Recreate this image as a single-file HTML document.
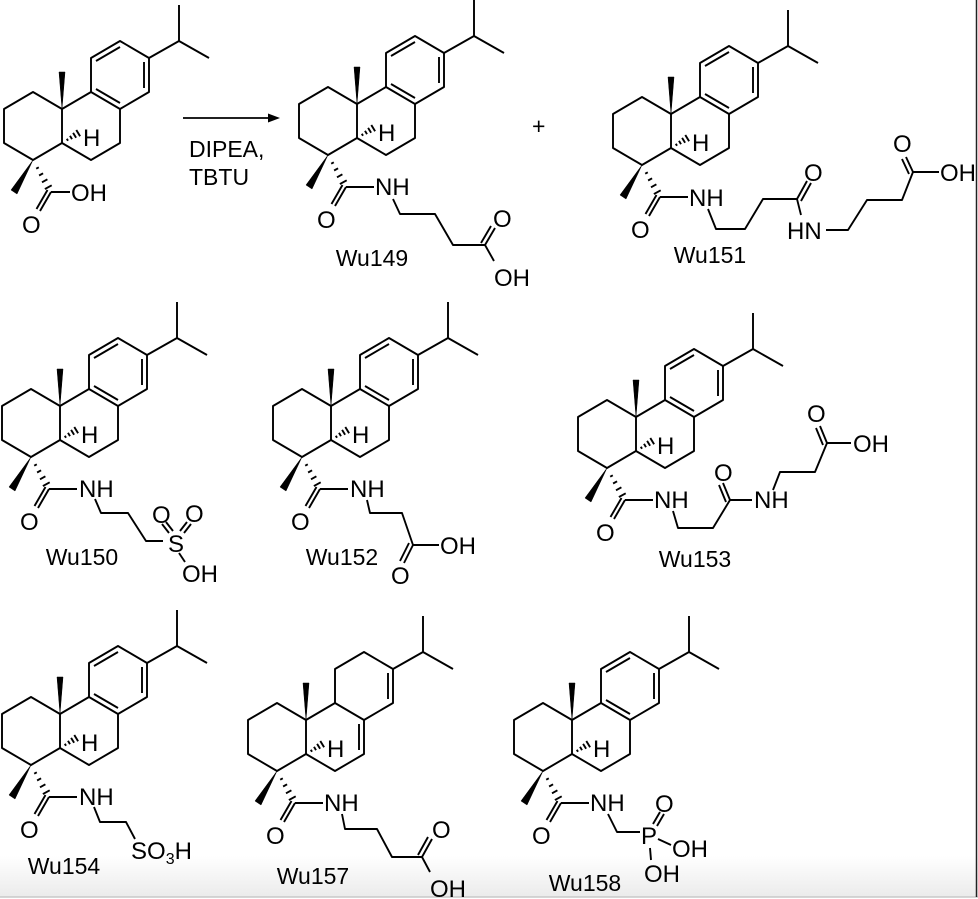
<!DOCTYPE html>
<html><head><meta charset="utf-8"><style>
html,body{margin:0;padding:0;background:#fff}
svg{display:block}
text{font-family:"Liberation Sans",Arial,sans-serif;fill:#000}
.a{font-size:24px}
.l{font-size:23px}
</style></head><body>
<svg width="978" height="899" viewBox="0 0 978 899" xmlns="http://www.w3.org/2000/svg">
<defs>
<linearGradient id="bg" x1="0" y1="0" x2="0" y2="1"><stop offset="0" stop-color="#fff"/><stop offset="1" stop-color="#ebebeb"/></linearGradient>
<g id="base" stroke="#000" stroke-width="1.9" fill="none" stroke-linejoin="round">
<polyline points="60,109 31,92 2,109 2,143 31,160 60,143"/>
<line x1="60" y1="109" x2="60" y2="143"/>
<polyline points="60,109 89,92 118,109 118,143 89,160 60,143"/>
<polyline points="89,92 89,58 118,41 147,58 147,92 118,109"/>
<polyline points="147,58 177,41 177,5"/>
<line x1="177" y1="41" x2="207" y2="58"/>
<polygon points="60,109 57,72 63,72" fill="#000" stroke-width="0.5"/>
<line x1="64.8" y1="138.7" x2="66" y2="140.7"/><line x1="68" y1="135.8" x2="70" y2="139.2"/><line x1="71.1" y1="132.9" x2="74.1" y2="137.7"/><line x1="74.3" y1="130" x2="78.1" y2="136.2"/>
<polygon points="31,160 9,190 15,194" fill="#000" stroke-width="0.5"/>
<line x1="34.2" y1="168.7" x2="36.8" y2="167.3"/><line x1="37.1" y1="175.5" x2="41.1" y2="173.3"/><line x1="40" y1="182.3" x2="45.4" y2="179.3"/><line x1="42.9" y1="189.1" x2="49.7" y2="185.3"/>
<line x1="49" y1="192" x2="38" y2="211"/><line x1="45.5" y1="190" x2="34.5" y2="209"/>
</g>
<g id="arom" stroke="#000" stroke-width="1.9">
<line x1="94" y1="61" x2="118" y2="47"/><line x1="142" y1="62" x2="142" y2="88"/><line x1="94" y1="89" x2="118" y2="103"/>
</g>
<g id="core"><use href="#base"/><use href="#arom"/><line x1="49" y1="192" x2="77" y2="192" stroke="#000" stroke-width="1.9"/></g>
<g id="core2"><use href="#base"/><line x1="49" y1="192" x2="77" y2="192" stroke="#000" stroke-width="1.9"/>
<line x1="142" y1="62" x2="142" y2="88" stroke="#000" stroke-width="1.9"/><line x1="113" y1="113" x2="113" y2="139" stroke="#000" stroke-width="1.9"/></g>
</defs>

<rect x="0" y="856" width="978" height="41" fill="url(#bg)"/>
<line x1="0" y1="897" x2="978" y2="897" stroke="#c8c8c8" stroke-width="1.5"/>
<line x1="976.5" y1="0" x2="976.5" y2="897" stroke="#222" stroke-width="1.5"/>

<!-- Starting material -->
<g transform="translate(2,0)"><use href="#base"/><use href="#arom"/>
<line x1="49" y1="192" x2="68" y2="192" stroke="#000" stroke-width="1.9"/>
<text class="a" x="81" y="146">H</text><text class="a" x="20" y="233">O</text><text class="a" x="69" y="201">OH</text></g>
<line x1="183" y1="118" x2="270" y2="118" stroke="#000" stroke-width="1.8"/>
<polygon points="280,118 268,113.5 268,122.5" fill="#000"/>
<text x="189" y="157" style="font-size:23px">DIPEA,</text>
<text x="189" y="185" style="font-size:23px">TBTU</text>
<text x="532" y="134" style="font-size:23px">+</text>

<g stroke="#000" stroke-width="1.9" fill="none" stroke-linejoin="round">
<!-- Wu149 -->
<polyline points="393,199 400,214 435,214 453,245 485,245"/>
<line x1="485" y1="245" x2="495" y2="228"/><line x1="481" y1="243" x2="491" y2="226"/>
<line x1="485" y1="245" x2="494" y2="261"/>
<!-- Wu151 -->
<polyline points="708,209 716,229 745,229 763,199 797,199"/>
<line x1="797" y1="199" x2="807" y2="181"/><line x1="801" y1="201" x2="811" y2="183"/>
<line x1="797" y1="199" x2="801" y2="215"/>
<polyline points="826,230 848,230 867,200 902,200 913,172"/>
<line x1="913" y1="172" x2="906" y2="157"/><line x1="909" y1="174" x2="902" y2="159"/>
<line x1="913" y1="172" x2="939" y2="172"/>
<!-- Wu150 -->
<polyline points="95,499 101,513 128,513 146,541 163,541"/>
<line x1="173" y1="531" x2="166" y2="522"/><line x1="169" y1="533" x2="162" y2="524"/>
<line x1="180" y1="531" x2="187" y2="522"/><line x1="184" y1="533" x2="191" y2="524"/>
<line x1="179" y1="553" x2="185" y2="562"/>
<!-- Wu152 -->
<polyline points="367,500 370,513 402,513 413,545 439,545"/>
<line x1="413" y1="545" x2="404" y2="563"/><line x1="409" y1="543" x2="400" y2="561"/>
<!-- Wu153 -->
<polyline points="673,511 678,528 713,528 730,500 752,500"/>
<line x1="730" y1="500" x2="723" y2="483"/><line x1="726" y1="502" x2="719" y2="485"/>
<polyline points="773,490 780,472 815,472 827,443 851,443"/>
<line x1="827" y1="443" x2="820" y2="426"/><line x1="823" y1="445" x2="816" y2="428"/>
<!-- Wu154 -->
<polyline points="94,807 100,822 126,822 135,839"/>
<!-- Wu157 -->
<polyline points="342,814 345,829 377,829 392,857 422,857"/>
<line x1="422" y1="857" x2="432" y2="839"/><line x1="418" y1="855" x2="428" y2="837"/>
<line x1="422" y1="857" x2="430" y2="872"/>
<!-- Wu158 -->
<polyline points="608,814 617,832 640,832"/>
<line x1="653" y1="824" x2="660" y2="812"/><line x1="657" y1="826" x2="664" y2="814"/>
<line x1="658" y1="839" x2="671" y2="845"/>
<line x1="650" y1="848" x2="651" y2="860"/>
</g>

<!-- Wu149 -->
<g transform="translate(297,-5)"><use href="#core"/><text class="a" x="81" y="146">H</text><text class="a" x="20" y="233">O</text></g>
<text class="a" x="375" y="195">NH</text>
<text class="a" x="493" y="227">O</text><text class="a" x="494" y="286">OH</text>
<text class="l" x="372" y="266" text-anchor="middle">Wu149</text>

<!-- Wu151 -->
<g transform="translate(611,5)"><use href="#core"/><text class="a" x="81" y="146">H</text><text class="a" x="20" y="233">O</text></g>
<text class="a" x="689" y="206">NH</text>
<text class="a" x="804" y="181">O</text><text class="a" x="787" y="239">HN</text>
<text class="a" x="893" y="152">O</text><text class="a" x="940" y="181">OH</text>
<text class="l" x="710" y="263" text-anchor="middle">Wu151</text>

<!-- Wu150 -->
<g transform="translate(0,297)"><use href="#core"/><text class="a" x="81" y="146">H</text><text class="a" x="20" y="233">O</text></g>
<text class="a" x="79" y="497">NH</text>
<text class="a" x="168" y="552">S</text><text class="a" x="152" y="523">O</text><text class="a" x="185" y="522">O</text>
<text class="a" x="182" y="582">OH</text>
<text class="l" x="82" y="565" text-anchor="middle">Wu150</text>

<!-- Wu152 -->
<g transform="translate(271,297)"><use href="#core"/><text class="a" x="81" y="146">H</text><text class="a" x="20" y="233">O</text></g>
<text class="a" x="350" y="497">NH</text>
<text class="a" x="440" y="554">OH</text><text class="a" x="391" y="584">O</text>
<text class="l" x="342" y="565" text-anchor="middle">Wu152</text>

<!-- Wu153 -->
<g transform="translate(576,308)"><use href="#core"/><text class="a" x="81" y="146">H</text><text class="a" x="20" y="233">O</text></g>
<text class="a" x="654" y="508">NH</text>
<text class="a" x="714" y="481">O</text><text class="a" x="754" y="508">NH</text>
<text class="a" x="807" y="422">O</text><text class="a" x="853" y="452">OH</text>
<text class="l" x="695" y="567" text-anchor="middle">Wu153</text>

<!-- Wu154 -->
<g transform="translate(0,605)"><use href="#core"/><text class="a" x="81" y="146">H</text><text class="a" x="20" y="233">O</text></g>
<text class="a" x="79" y="805">NH</text>
<text class="a" x="131" y="859">SO<tspan style="font-size:16px" dy="5">3</tspan><tspan dy="-5">H</tspan></text>
<text class="l" x="64" y="874" text-anchor="middle">Wu154</text>

<!-- Wu157 -->
<g transform="translate(246,611)"><use href="#core2"/><text class="a" x="81" y="146">H</text><text class="a" x="20" y="233">O</text></g>
<text class="a" x="324" y="811">NH</text>
<text class="a" x="432" y="838">O</text><text class="a" x="430" y="897">OH</text>
<text class="l" x="313" y="884" text-anchor="middle">Wu157</text>

<!-- Wu158 -->
<g transform="translate(512,611)"><use href="#core"/><text class="a" x="81" y="146">H</text><text class="a" x="20" y="233">O</text></g>
<text class="a" x="590" y="811">NH</text>
<text class="a" x="641" y="844">P</text><text class="a" x="655" y="812">O</text>
<text class="a" x="672" y="857">OH</text><text class="a" x="644" y="882">OH</text>
<text class="l" x="585" y="891" text-anchor="middle">Wu158</text>
</svg>
</body></html>
